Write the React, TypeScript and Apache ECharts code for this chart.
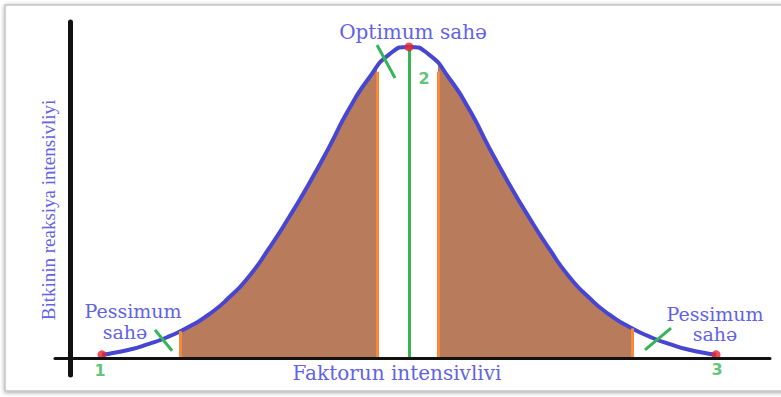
import React, { useEffect, useRef } from "react";
import * as echarts from "echarts";

// Bell curve (x: factor intensity, y: reaction intensity, peak = 100)
const curveX = [3.2, 5.9, 7.9, 9.9, 11.9, 13.9, 15.9, 17.9, 19.9, 21.9, 23.9, 25.9, 27.9, 29.9, 31.9, 33.9, 35.9, 37.9, 39.9, 41.9, 43.9, 45.9, 47.9, 49.9, 51.9, 53.9, 55.9, 57.9, 59.9, 61.9, 64.6];
const curveY = [1.0, 2.6, 4.5, 6.9, 10.0, 14.0, 19.4, 26.2, 35.2, 45.2, 56.0, 67.7, 80.0, 90.0, 97.5, 100, 97.5, 90.0, 80.0, 67.7, 56.0, 45.2, 35.2, 26.2, 19.4, 14.0, 10.0, 6.9, 4.5, 2.6, 1.0];

// Brown zones (between pessimum and optimum) and the heights of their orange edges
const zoneBounds: [number, number][] = [
  [11.0, 30.7],
  [36.8, 56.2],
];
const zoneEdgeHeights: [number, number][] = [
  [8.6, 92.0],
  [92.0, 9.5],
];

const optimumX = 33.9;
const optimumY = 100;

// Key points 1, 2, 3
const keyLabels = ["1", "2", "3"];
const keyX = [3.2, 33.9, 64.6];
const keyY = [1.0, 100, 1.0];

// Green slanted markers across the curve
const markerSegments: [number, number][][] = [
  [[8.5, 9.0], [10.2, 2.3]],
  [[30.7, 100.6], [32.5, 90.0]],
  [[57.5, 2.6], [60.1, 9.6]],
];

const xAxisTitle = "Faktorun intensivlivi";
const yAxisTitle = "Bitkinin reaksiya intensivliyi";
const optimumTitle = "Optimum sahə";
const pessimumTitle = ["Pessimum", "sahə"];

const BLUE = "#4646d2";
const TEXT_BLUE = "#6262e4";
const BROWN = "#b87c5c";
const ORANGE = "#f7893a";
const GREEN = "#34b556";
const RED = "#e8262a";
const NONE = "rgba(255,255,255,0)";

export default function App() {
  const ref = useRef<HTMLDivElement>(null);

  useEffect(() => {
    if (!ref.current) return;
    const chart = echarts.init(ref.current, undefined, { renderer: "svg" });

    const curve = curveX.map((x, i) => [x, curveY[i]]);

    const pieces: any[] = [];
    let prev: number | null = null;
    zoneBounds.forEach(([a, b]) => {
      if (prev === null) pieces.push({ lt: a, color: NONE });
      else pieces.push({ gt: prev, lt: a, color: NONE });
      pieces.push({ gte: a, lte: b, color: BROWN });
      prev = b;
    });
    pieces.push({ gt: prev, color: NONE });

    const edgeLines: any[] = [];
    zoneBounds.forEach(([a, b], i) => {
      edgeLines.push([{ coord: [a, 0] }, { coord: [a, zoneEdgeHeights[i][0]] }]);
      edgeLines.push([{ coord: [b, 0] }, { coord: [b, zoneEdgeHeights[i][1]] }]);
    });

    const textStyle = (text: string, font: string) => ({
      text,
      font,
      fill: TEXT_BLUE,
      align: "center",
      verticalAlign: "middle",
      textAlign: "center",
      textVerticalAlign: "middle",
    });

    const labelOffsets: [number, number][] = [
      [-2, 16],
      [15, 32],
      [1, 15],
    ];

    chart.setOption({
      animation: false,
      backgroundColor: "#ffffff",
      grid: { left: 55, right: 11, top: 22, bottom: 22, containLabel: false },
      xAxis: {
        type: "value",
        min: -1.5,
        max: 70,
        z: 10,
        axisLine: { show: true, onZero: true, lineStyle: { color: "#111", width: 3 } },
        axisTick: { show: false },
        axisLabel: { show: false },
        splitLine: { show: false },
      },
      yAxis: {
        type: "value",
        min: -5.5,
        max: 108,
        z: 10,
        axisLine: { show: true, onZero: true, lineStyle: { color: "#111", width: 5 } },
        axisTick: { show: false },
        axisLabel: { show: false },
        splitLine: { show: false },
      },
      visualMap: {
        type: "piecewise",
        show: false,
        seriesIndex: 0,
        dimension: 0,
        pieces,
      },
      graphic: [
        {
          type: "rect",
          z: -10,
          silent: true,
          shape: { x: 5, y: 5, width: 800, height: 386 },
          style: {
            fill: "#fff",
            stroke: "#c4c4c4",
            lineWidth: 1.5,
            shadowBlur: 4,
            shadowColor: "rgba(0,0,0,0.35)",
            shadowOffsetY: 1,
          },
        },
        { type: "text", x: 413, y: 32, style: textStyle(optimumTitle, '20px "DejaVu Serif"') },
        { type: "text", x: 133, y: 311, style: textStyle(pessimumTitle[0], '19px "DejaVu Serif"') },
        { type: "text", x: 125, y: 332, style: textStyle(pessimumTitle[1], '19px "DejaVu Serif"') },
        { type: "text", x: 715, y: 314, style: textStyle(pessimumTitle[0], '19px "DejaVu Serif"') },
        { type: "text", x: 715, y: 334, style: textStyle(pessimumTitle[1], '19px "DejaVu Serif"') },
        { type: "text", x: 397, y: 373, style: textStyle(xAxisTitle, '20px "DejaVu Serif"') },
        {
          type: "text",
          x: 48,
          y: 210,
          rotation: Math.PI / 2,
          style: textStyle(yAxisTitle, '19px "Liberation Serif"'),
        },
      ],
      series: [
        {
          type: "line",
          data: curve,
          smooth: 0.6,
          symbol: "none",
          lineStyle: { width: 0 },
          areaStyle: { opacity: 1 },
          z: 1,
          silent: true,
          markLine: {
            silent: true,
            symbol: ["none", "none"],
            label: { show: false },
            lineStyle: { color: ORANGE, width: 3, type: "solid" },
            data: edgeLines,
          },
        },
        {
          type: "line",
          data: curve,
          smooth: 0.6,
          symbol: "none",
          lineStyle: { color: BLUE, width: 4 },
          z: 3,
          silent: true,
          markLine: {
            silent: true,
            symbol: ["none", "none"],
            label: { show: false },
            lineStyle: { color: GREEN, width: 3, type: "solid" },
            data: [
              [{ coord: [optimumX, 0] }, { coord: [optimumX, optimumY] }],
              ...markerSegments.map((s) => [{ coord: s[0] }, { coord: s[1] }]),
            ],
          },
        },
        {
          type: "scatter",
          symbolSize: 9,
          itemStyle: { color: RED },
          z: 5,
          silent: true,
          data: keyX.map((x, i) => ({
            value: [x, keyY[i]],
            label: {
              show: true,
              formatter: keyLabels[i],
              position: "inside",
              offset: labelOffsets[i],
              color: GREEN,
              fontSize: 16,
              fontWeight: "bold",
              fontFamily: "DejaVu Sans",
            },
          })),
        },
      ],
    });

    return () => chart.dispose();
  }, []);

  return (
    <div
      ref={ref}
      style={{ position: "absolute", left: 0, top: 0, width: 781, height: 397 }}
    />
  );
}
